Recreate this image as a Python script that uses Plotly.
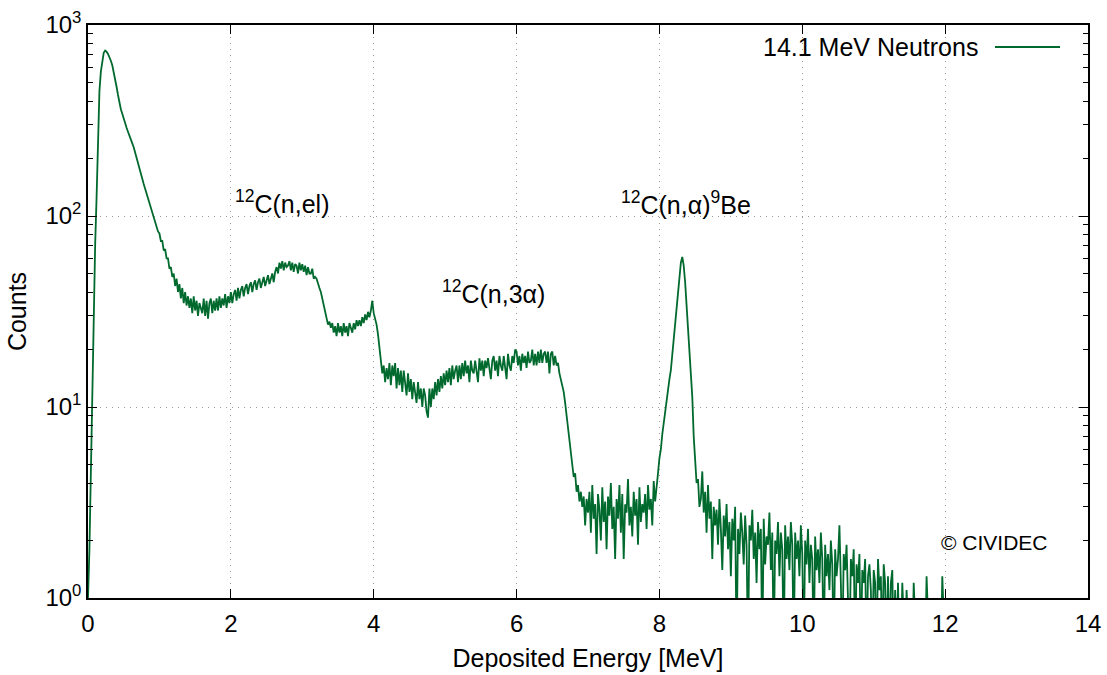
import numpy as np
import plotly.graph_objects as go

# Pulse-height spectrum of a diamond detector under 14.1 MeV neutrons.
# Counts per 0.02 MeV bin, bin centres starting at 0.00 MeV.
BIN_WIDTH = 0.02

# 0.00 - 0.98 MeV: low-energy rise and main peak
rise_and_peak = [
    1.0, 1.8, 4.5, 13, 35, 70, 125, 270, 450, 570,
    660, 715, 735, 725, 705, 680, 650, 615, 570, 520,
    475, 430, 385, 362, 343, 322, 302, 290, 276, 265,
    252, 240, 229, 214, 201, 186, 175, 166, 154, 147,
    139, 131, 125, 115, 110, 102, 98, 91, 88, 83,
]

# 1.00 - 3.98 MeV: 12C elastic scattering shoulder
elastic_shoulder = [
    81, 74, 74, 66, 67, 60, 60, 53, 54, 48,
    50, 43, 47, 40, 44, 37, 42, 35, 40, 34,
    38, 33, 37, 31, 38, 32, 36, 30, 35, 33,
    31, 37, 30, 36, 29, 35, 37, 31, 36, 32,
    37, 32, 38, 33, 37, 34, 39, 33, 38, 35,
    40, 35, 39, 41, 36, 42, 37, 41, 43, 38,
    42, 44, 39, 43, 45, 40, 44, 46, 41, 45,
    47, 42, 46, 48, 43, 47, 49, 44, 48, 50,
    45, 51, 54, 50, 57, 53, 58, 52, 57, 54,
    55, 58, 52, 57, 51, 56, 55, 50, 57, 52,
    56, 51, 55, 49, 54, 50, 50, 53, 47, 48,
    47, 44, 42, 40, 37, 34, 31, 29, 27, 28,
    26, 27.5, 24.5, 26.5, 23.5, 27.5, 24.5, 26.5, 23.5, 27.5,
    24.5, 26.5, 23.5, 27.5, 25.5, 24.5, 27.5, 25.5, 28.5, 26.5,
    28.5, 26.5, 29.5, 27.5, 30.5, 28.5, 31.5, 29.5, 32, 36,
]

# 4.00 - 6.98 MeV: 12C(n,3alpha) continuum
triple_alpha = [
    31, 29, 27, 24, 21, 18, 15, 16.5, 13.5, 16,
    14, 17, 13, 16.5, 14.5, 17, 12.5, 16, 13, 15.5,
    12, 15.5, 13.5, 11.5, 15, 12, 14, 11, 13.5, 12,
    10.5, 13.5, 11, 12.5, 10, 12.5, 11.5, 9.5, 8.8, 12.5,
    10, 12.5, 11, 13.5, 11.5, 14, 12, 14.5, 12.5, 15,
    13, 15.5, 13.5, 16, 13, 16.5, 14, 15.5, 16.5, 13.5,
    16.5, 14, 17, 14.5, 17.5, 15, 16.5, 13.5, 17.5, 15.5,
    15, 17.5, 15.5, 13.5, 18, 15.5, 17.5, 14.5, 17.5, 16,
    18, 15.5, 14, 17.5, 18.5, 15.5, 17.5, 14.5, 18.5, 16.5,
    15.5, 18.5, 16.5, 14, 19, 16.5, 15.5, 18.5, 17, 20,
    19.5, 16.5, 18.5, 15.5, 19, 17, 18.5, 16, 19.5, 17,
    17.5, 20, 16.5, 19, 16.5, 19.5, 17, 20, 17, 19,
    19.5, 17, 19.5, 15, 19, 19.5, 16.5, 18.5, 16.5, 17,
    15, 14, 13, 12, 10.5, 9, 7.5, 6.5, 5.5, 4.8,
    4.3, 4.5, 3.6, 3.9, 3.2, 3.6, 3.0, 3.4, 2.4, 3.3,
]

# 7.00 - 8.98 MeV: valley and 12C(n,alpha)9Be peak
be9_region = [
    2.8, 3.6, 2.2, 3.9, 2.6, 3.1, 1.7, 3.5, 2.9, 2.0,
    3.8, 2.5, 3.2, 1.8, 3.4, 2.7, 4.0, 2.3, 3.0, 1.6,
    3.3, 2.6, 3.9, 2.2, 3.5, 1.6, 3.1, 2.8, 4.2, 2.4,
    3.0, 2.1, 3.6, 2.7, 3.3, 1.9, 3.8, 2.5, 3.1, 2.8,
    3.5, 2.3, 3.9, 2.9, 3.3, 2.4, 4.1, 3.2, 3.7, 4.5,
    5.4, 6.0, 7.2, 8.3, 9.8, 11.3, 13, 14, 15.6, 19,
    23.5, 28, 34, 42, 50, 57, 61, 55, 45, 35,
    27, 20, 15, 11.3, 7, 5.5, 4.0, 4.2, 3.0, 3.3,
    4.6, 2.8, 3.6, 2.2, 3.9, 2.6, 3.2, 1.6, 3.0, 2.4,
    2.9, 1.9, 3.3, 2.3, 1.4, 2.7, 2.1, 3.1, 1.8, 2.5,
]

# 9.00 - 12.00 MeV: high-energy tail (0 = empty bin)
tail = [
    1.3, 2.6, 2.0, 3.0, 0, 2.3, 1.7, 2.8, 2.2, 1.5,
    2.7, 1.9, 0, 2.4, 2.0, 2.9, 1.6, 2.2, 1.2, 2.5,
    1.8, 2.3, 0, 2.6, 1.5, 2.1, 1.9, 2.8, 1.4, 2.2,
    0, 2.0, 1.7, 2.5, 1.3, 2.2, 1.8, 0, 2.4, 1.6,
    2.1, 1.4, 2.5, 1.9, 0, 2.2, 1.6, 2.0, 1.3, 2.4,
    1.7, 0, 2.0, 1.5, 2.3, 1.2, 1.9, 1.6, 0, 2.1,
    1.4, 1.8, 1.2, 2.2, 1.6, 0, 1.9, 1.3, 1.7, 1.1,
    2.0, 1.5, 0, 1.8, 1.3, 1.6, 2.4, 1.2, 0, 1.7,
    1.4, 1.9, 1.1, 0, 1.6, 1.3, 1.8, 0, 1.5, 1.2,
    1.7, 0, 1.4, 1.2, 1.6, 0, 1.3, 1.5, 1.1, 0,
    1.4, 1.2, 0, 1.6, 1.1, 1.3, 0, 1.5, 1.2, 0,
    1.3, 0, 1.2, 1.4, 0, 1.1, 0, 1.2, 0, 0,
    1.2, 0, 0, 1.1, 0, 0, 0, 0, 1.2, 0,
    0, 0, 0, 0, 0, 0, 0, 1.3, 0, 0,
    0, 0, 0, 0, 0, 0, 0, 0, 1.3, 0,
    0,
]

counts = np.array(rise_and_peak + elastic_shoulder + triple_alpha + be9_region + tail, dtype=float)
energy = np.round(np.arange(len(counts)) * BIN_WIDTH, 2)

# empty bins drop below the log axis floor, as in a gnuplot log plot
counts_plot = np.where(counts > 0, counts, 0.5)

x_ticks = [0, 2, 4, 6, 8, 10, 12, 14]
y_ticks = [1, 10, 100, 1000]
y_ticktext = ["10<sup>0</sup>", "10<sup>1</sup>", "10<sup>2</sup>", "10<sup>3</sup>"]
y_minor = [m * d for d in (1, 10, 100) for m in range(2, 10)]

LINE_COLOR = "#006a2e"
FONT = "Liberation Sans, Arial, Helvetica, sans-serif"
FS = 25        # titles, labels, key
FS_TICK = 24   # tick labels

fig = go.Figure()
fig.add_trace(go.Scatter(
    x=energy, y=counts_plot, mode="lines",
    line=dict(color=LINE_COLOR, width=1.8),
    name="14.1 MeV Neutrons", showlegend=False,
))

axis_common = dict(
    showline=True, linecolor="black", linewidth=1.5, mirror="ticks",
    ticks="inside", ticklen=9, tickwidth=1.2, tickcolor="black",
    showgrid=True, gridcolor="#9a9a9a", gridwidth=1, griddash="1px,5px",
    zeroline=False, automargin=False,
    tickfont=dict(family=FONT, size=FS_TICK, color="black"),
)

fig.update_xaxes(
    range=[0, 14], tickvals=x_ticks, ticktext=[str(v) for v in x_ticks],
    ticklabelstandoff=3,
    title=dict(text="Deposited Energy [MeV]", font=dict(family=FONT, size=FS, color="black"), standoff=14),
    **axis_common,
)
fig.update_yaxes(
    type="log", range=[0, 3], tickvals=y_ticks, ticktext=y_ticktext,
    ticklabelstandoff=0,
    minor=dict(tickvals=y_minor, ticks="inside", ticklen=5, tickwidth=1, tickcolor="black", showgrid=False),
    title=dict(text="Counts", font=dict(family=FONT, size=FS, color="black"), standoff=12),
    **axis_common,
)

labels = [
    ("<sup>12</sup>C(n,el)", 2.03, 2.073),
    ("<sup>12</sup>C(n,3α)", 4.93, 1.602),
    ("<sup>12</sup>C(n,α)<sup>9</sup>Be", 7.43, 2.068),
]
for text, xv, yv in labels:
    fig.add_annotation(x=xv, y=yv, xref="x", yref="y", text=text, showarrow=False,
                       xanchor="left", yanchor="middle",
                       font=dict(family=FONT, size=FS, color="black"))

fig.add_annotation(x=11.91, y=0.293, xref="x", yref="y", text="© CIVIDEC", showarrow=False,
                   xanchor="left", yanchor="middle",
                   font=dict(family=FONT, size=21, color="black"))

# key: label followed by a line sample, top right inside the frame
fig.add_annotation(x=0.892, y=0.9616, xref="paper", yref="paper", text="14.1 MeV Neutrons",
                   showarrow=False, xanchor="right", yanchor="middle",
                   font=dict(family=FONT, size=FS, color="black"))
fig.add_shape(type="line", xref="paper", yref="paper", x0=0.907, x1=0.972, y0=0.9616, y1=0.9616,
              line=dict(color=LINE_COLOR, width=2))

fig.update_layout(
    width=1107, height=675,
    margin=dict(l=88, r=19, t=25, b=77),
    paper_bgcolor="white", plot_bgcolor="white",
    font=dict(family=FONT, size=FS, color="black"),
)

fig.write_html("out.html")
